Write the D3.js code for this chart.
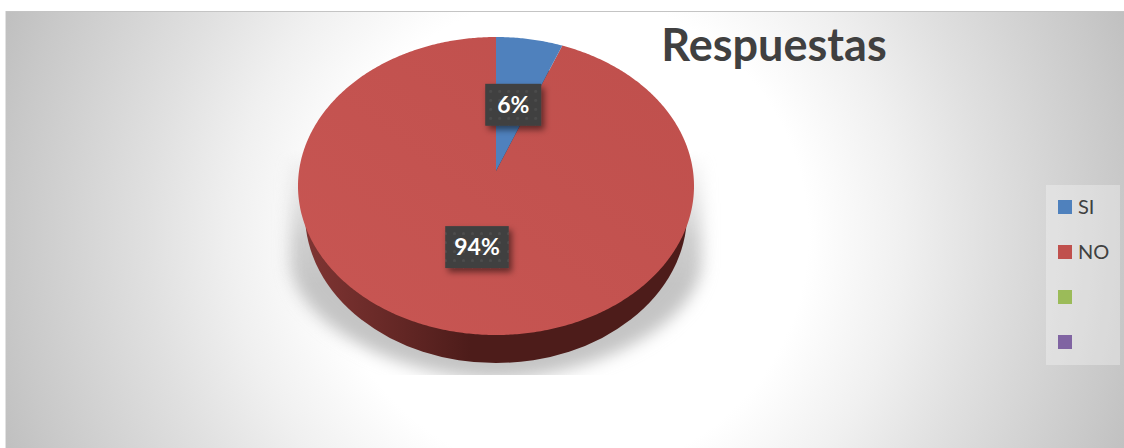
<!DOCTYPE html>
<html>
<head>
<meta charset="utf-8">
<script src="https://cdn.jsdelivr.net/npm/d3@7/dist/d3.min.js"></script>
<style>
  html, body { margin: 0; padding: 0; background: #fff; overflow: hidden; }
  svg { display: block; }
  text { font-family: Lato, "Open Sans", sans-serif; }
</style>
</head>
<body>
<svg id="chart" width="1124" height="448"></svg>
<script>
const title = "Respuestas";
const categories = ["SI", "NO", "", ""];
const shares = [6, 94, 0, 0];
const sliceColors = ["#4f81bd", "#c0504d", "#9bbb59", "#8064a2"];

const svg = d3.select("#chart");
const defs = svg.append("defs");

// Chart area backdrop: soft radial fade from white to grey.
const bg = defs.append("radialGradient").attr("id", "bgFade")
  .attr("gradientUnits", "userSpaceOnUse")
  .attr("cx", 568).attr("cy", 235).attr("r", 600);
[[0, "#ffffff"], [0.4, "#ffffff"], [0.56, "#f0f0f0"], [0.7, "#e0e0e0"], [0.93, "#c8c8c8"], [1, "#c0c0c0"]]
  .forEach(([o, c]) => bg.append("stop").attr("offset", o).attr("stop-color", c));

svg.append("rect").attr("x", 6).attr("y", 12).attr("width", 1118).attr("height", 436)
  .attr("fill", "url(#bgFade)");
svg.append("line").attr("x1", 5).attr("x2", 1124).attr("y1", 11.5).attr("y2", 11.5)
  .attr("stroke", "#c4c4c4");
svg.append("line").attr("x1", 5.5).attr("x2", 5.5).attr("y1", 11).attr("y2", 448)
  .attr("stroke", "#e2e2e2");

// Tilted-disc projection: maps a point on the unit disc to the page, with
// the far half foreshortened, so the pie centre sits above the ellipse centre.
const cx = 496, cy = 186, discA = 197, discB = 149, persp = 0.1007, centreLift = 15, depth = 28;
const project = (angle, r = 1) => {
  const u = Math.sin(angle) * r, v = Math.cos(angle) * r, w = 1 + persp * v;
  return [cx + discA * u / w, cy - (discB * v + centreLift) / w];
};

const pieData = d3.pie().sort(null).value(d => d)(shares);
const color = d3.scaleOrdinal().domain(d3.range(categories.length)).range(sliceColors);

// Ground shadow: a flared outline, blurred, faded upward and cut along the floor line
defs.append("filter").attr("id", "groundBlur")
  .attr("x", "-20%").attr("y", "-20%").attr("width", "140%").attr("height", "140%")
  .append("feGaussianBlur").attr("stdDeviation", 8);
const fade = defs.append("linearGradient").attr("id", "shadowFade")
  .attr("x1", 0).attr("x2", 0).attr("y1", 0).attr("y2", 1);
[[0, 0], [0.4, 0.85], [0.6, 1], [1, 1]].forEach(([o, a]) =>
  fade.append("stop").attr("offset", o).attr("stop-color", "#fff").attr("stop-opacity", a));
const shadowMask = defs.append("mask").attr("id", "shadowMask").attr("maskUnits", "userSpaceOnUse")
  .attr("x", 260).attr("y", 150).attr("width", 472).attr("height", 225);
shadowMask.append("rect").attr("x", 260).attr("y", 150).attr("width", 472).attr("height", 225)
  .attr("fill", "url(#shadowFade)");
const flare = d3.path();
flare.moveTo(cx - 205, 150);
flare.lineTo(cx - 206, cy + 79);
flare.bezierCurveTo(cx - 196, cy + 150, cx - 76, cy + 193, cx, cy + 193);
flare.bezierCurveTo(cx + 76, cy + 193, cx + 196, cy + 150, cx + 206, cy + 79);
flare.lineTo(cx + 205, 150);
flare.closePath();
svg.append("g").attr("mask", "url(#shadowMask)")
  .append("path").attr("d", flare.toString())
  .attr("fill", "#c4c4c4").attr("filter", "url(#groundBlur)");

// Side wall of the disc
const wall = defs.append("linearGradient").attr("id", "wallShade")
  .attr("gradientUnits", "userSpaceOnUse")
  .attr("x1", 305).attr("x2", 470).attr("y1", 0).attr("y2", 0);
[[0, "#7f3533"], [0.45, "#6a2a28"], [1, "#4d1c1a"]].forEach(([o, c]) =>
  wall.append("stop").attr("offset", o).attr("stop-color", c));
svg.append("ellipse")
  .attr("cx", cx).attr("cy", cy + depth).attr("rx", 191).attr("ry", discB)
  .attr("fill", "url(#wallShade)");

// Top face of each slice, traced through the projection
const faceShade = defs.append("linearGradient").attr("id", "topShade")
  .attr("x1", 0).attr("y1", 1).attr("x2", 1).attr("y2", 0);
[[0, "#c85653"], [1, "#bf4f4c"]].forEach(([o, c]) =>
  faceShade.append("stop").attr("offset", o).attr("stop-color", c));

const line = d3.line();
const slicePath = d => {
  const n = Math.max(2, Math.ceil((d.endAngle - d.startAngle) / 0.01));
  const rim = d3.range(n + 1).map(i =>
    project(d.startAngle + (d.endAngle - d.startAngle) * i / n));
  return line([project(0, 0), ...rim]) + "Z";
};
svg.append("g").selectAll("path")
  .data(pieData.filter(d => d.value > 0).reverse())
  .join("path")
  .attr("d", slicePath)
  .attr("fill", d => d.index === 1 ? "url(#topShade)" : color(d.index));

// Data labels: dark dotted plates with a drop shadow
const dots = defs.append("pattern").attr("id", "plateDots")
  .attr("patternUnits", "userSpaceOnUse").attr("width", 9).attr("height", 9);
dots.append("rect").attr("width", 9).attr("height", 9).attr("fill", "#3f3f3f");
dots.append("circle").attr("cx", 4.5).attr("cy", 4.5).attr("r", 1.5).attr("fill", "#4d4d4d");
const plateShadow = defs.append("filter").attr("id", "plateShadow")
  .attr("x", "-30%").attr("y", "-30%").attr("width", "170%").attr("height", "170%");
plateShadow.append("feDropShadow")
  .attr("dx", 3).attr("dy", 4).attr("stdDeviation", 3)
  .attr("flood-color", "#000").attr("flood-opacity", 0.5);

const labels = svg.append("g").selectAll("g")
  .data(pieData.filter(d => d.value > 0))
  .join("g")
  .attr("transform", d => {
    const [x, y] = project((d.startAngle + d.endAngle) / 2, 0.49);
    return `translate(${x},${y + 1.5})`;
  });
const plates = labels.append("rect").attr("fill", "url(#plateDots)").attr("filter", "url(#plateShadow)");
const labelText = labels.append("text")
  .attr("text-anchor", "middle").attr("dy", "0.35em")
  .attr("font-size", 23).attr("font-weight", 700).attr("fill", "#fff")
  .text(d => d.value + "%");
labelText.each(function (d, i) {
  const w = Math.max(56, this.getComputedTextLength() + 18);
  d3.select(plates.nodes()[i])
    .attr("x", -w / 2).attr("y", -21).attr("width", w).attr("height", 42);
});

// Title
svg.append("text").attr("x", 774).attr("y", 61).attr("text-anchor", "middle")
  .attr("font-size", 45).attr("font-weight", 700).attr("fill", "#404040")
  .text(title);

// Legend
const legendTop = 185, legendStep = 45;
svg.append("rect").attr("x", 1046).attr("y", legendTop).attr("width", 74).attr("height", 180)
  .attr("fill", "#fff").attr("fill-opacity", 0.3);
const legendRow = svg.append("g").selectAll("g")
  .data(categories)
  .join("g")
  .attr("transform", (d, i) => `translate(1058,${legendTop + 15 + i * legendStep})`);
legendRow.append("rect").attr("width", 14).attr("height", 14)
  .attr("fill", (d, i) => color(i));
legendRow.append("text").attr("x", 20).attr("y", 14)
  .attr("font-size", 20).attr("fill", "#404040")
  .text(d => d);
</script>
</body>
</html>
